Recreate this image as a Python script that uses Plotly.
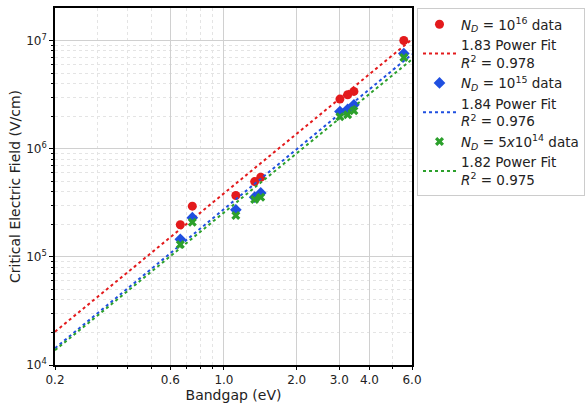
import numpy as np
import plotly.graph_objects as go

# Bandgaps (eV) of the materials
bandgap = [0.66, 0.74, 1.12, 1.34, 1.42, 3.02, 3.25, 3.45, 5.55]

# Critical electric field (V/cm) for three doping levels
ec_1e16 = [1.98e5, 2.94e5, 3.69e5, 4.96e5, 5.44e5, 2.87e6, 3.15e6, 3.38e6, 1.00e7]
ec_1e15 = [1.45e5, 2.30e5, 2.72e5, 3.56e5, 3.90e5, 2.20e6, 2.31e6, 2.54e6, 7.56e6]
ec_5e14 = [1.30e5, 2.09e5, 2.41e5, 3.39e5, 3.56e5, 1.97e6, 2.06e6, 2.24e6, 6.95e6]

# Power-law fits E = A * Eg^n  (A = field at Eg = 1 eV)
fit_exponent = [1.83, 1.84, 1.82]
fit_prefactor = [3.86e5, 2.76e5, 2.565e5]
fit_r2 = [0.978, 0.976, 0.975]

data_labels = [
    "<i>N</i><sub><i>D</i></sub> = 10<sup>16</sup> data",
    "<i>N</i><sub><i>D</i></sub> = 10<sup>15</sup> data",
    "<i>N</i><sub><i>D</i></sub> = 5<i>x</i>10<sup>14</sup> data",
]
colors = ["#e31a1c", "#1f4fe0", "#2ca02c"]
symbols = ["circle", "diamond", "x"]
marker_sizes = [9, 9, 8]

x_ticks = [0.2, 0.6, 1.0, 2.0, 3.0, 4.0, 6.0]
x_minor = [0.3, 0.4, 0.5, 0.7, 0.8, 0.9, 5.0]
y_ticks = [1e4, 1e5, 1e6, 1e7]
y_minor = [m * 10 ** d for d in range(4, 8) for m in range(2, 10)]

FONT = "DejaVu Sans"
fig = go.Figure()

xfit = np.logspace(np.log10(0.2), np.log10(6.0), 200)
series = [ec_1e16, ec_1e15, ec_5e14]
for i in range(3):
    fig.add_trace(go.Scatter(
        x=bandgap, y=series[i], mode="markers", name=data_labels[i],
        marker=dict(color=colors[i], symbol=symbols[i], size=marker_sizes[i],
                    line=dict(width=0)),
    ))
    fig.add_trace(go.Scatter(
        x=xfit, y=fit_prefactor[i] * xfit ** fit_exponent[i], mode="lines",
        name=f"{fit_exponent[i]:.2f} Power Fit<br><i>R</i><sup>2</sup> = {fit_r2[i]:.3f}",
        line=dict(color=colors[i], dash="dot", width=2),
    ))

fig.update_layout(
    width=586, height=405,
    margin=dict(l=55, r=174, t=8, b=40, autoexpand=False),
    plot_bgcolor="white", paper_bgcolor="white",
    font=dict(family=FONT, size=13, color="#222"),
    showlegend=True,
    legend=dict(x=1.014, y=1.0, xanchor="left", yanchor="top",
                bordercolor="#cccccc", borderwidth=1, bgcolor="white",
                font=dict(size=13.5, family=FONT), tracegroupgap=0,
                itemwidth=33),
)

fig.update_xaxes(
    type="log", range=[np.log10(0.2), np.log10(6.0)],
    tickvals=x_ticks, ticktext=[f"{v:.1f}" for v in x_ticks],
    ticks="outside", ticklen=3, tickcolor="black",
    showgrid=True, gridcolor="#d0d0d0", gridwidth=1,
    minor=dict(tickvals=x_minor, showgrid=True, gridcolor="#e4e4e4",
               griddash="dot", ticks="outside", ticklen=2, tickcolor="black"),
    showline=True, linecolor="black", linewidth=1.5, mirror=True,
    title=dict(text="Bandgap (eV)", font=dict(size=14), standoff=0),
    tickfont=dict(size=12),
    zeroline=False,
)
fig.update_yaxes(
    type="log", range=[4, 7.3],
    tickvals=y_ticks, ticktext=[f"10<sup>{int(np.log10(v))}</sup>" for v in y_ticks],
    ticks="outside", ticklen=4, tickcolor="black",
    showgrid=True, gridcolor="#d0d0d0", gridwidth=1,
    minor=dict(tickvals=y_minor, showgrid=True, gridcolor="#e4e4e4",
               griddash="dot", ticks="outside", ticklen=2, tickcolor="black"),
    showline=True, linecolor="black", linewidth=1.5, mirror=True,
    title=dict(text="Critical Electric Field (V/cm)", font=dict(size=14), standoff=2),
    tickfont=dict(size=12),
    zeroline=False,
)

fig.write_html("out.html")
